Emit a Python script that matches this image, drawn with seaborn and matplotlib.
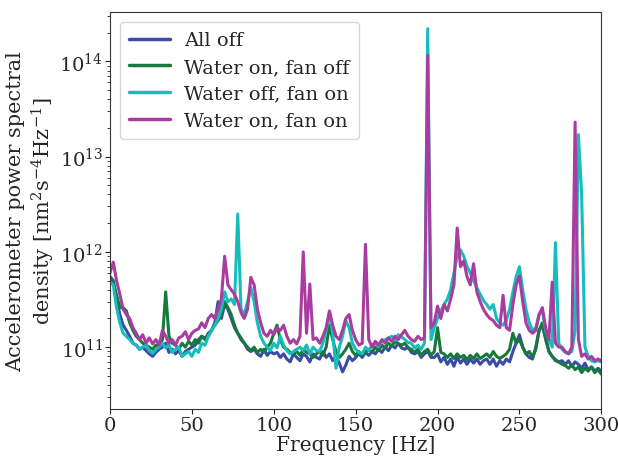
import numpy as np
import pandas as pd
import matplotlib.pyplot as plt
import seaborn as sns

# frequency grid [Hz], PSD values in units of 1e11 nm^2 s^-4 Hz^-1
freq = np.arange(0, 301, 2)

all_off = [
    5.5, 5.0, 3.2, 2.2, 1.7, 1.5, 1.3, 1.1, 1.05, 0.95,
    1.0, 0.92, 0.85, 0.8, 0.88, 0.95, 1.0, 1.1, 0.88, 0.95,
    0.85, 0.92, 0.8, 0.9, 0.95, 1.0, 1.05, 1.2, 1.3, 1.25,
    1.3, 1.5, 1.8, 3.0, 2.0, 2.8, 2.5, 2.0, 1.6, 1.4,
    1.2, 1.1, 0.95, 0.9, 0.95, 0.85, 0.8, 0.95, 0.82, 0.9,
    0.85, 0.88, 0.78, 0.85, 0.75, 0.7, 0.85, 0.78, 0.72, 0.85,
    0.8, 0.7, 0.85, 0.78, 0.75, 0.9, 0.78, 0.85, 0.72, 0.8,
    0.68, 0.55, 0.65, 0.8, 0.72, 0.78, 0.85, 0.78, 0.88, 0.82,
    0.9, 0.85, 0.95, 0.88, 1.0, 0.92, 1.05, 0.98, 1.1, 0.98,
    0.95, 1.0, 0.88, 0.85, 0.9, 0.78, 0.85, 0.9, 0.78, 0.78,
    0.85, 0.7, 0.78, 0.66, 0.75, 0.63, 0.78, 0.68, 0.75, 0.66,
    0.75, 0.68, 0.75, 0.66, 0.72, 0.75, 0.66, 0.75, 0.63, 0.72,
    0.66, 0.75, 0.7, 0.9, 1.1, 1.35, 1.0, 0.85, 0.78, 0.75,
    1.0, 1.5, 1.7, 1.2, 0.9, 0.8, 0.72, 0.7, 0.72, 0.66,
    0.72, 0.63, 0.7, 0.66, 0.6, 0.68, 0.58, 0.62, 0.56, 0.6,
    0.56,
]

water_on = [
    5.0, 4.8, 3.5, 2.6, 2.6, 2.4, 1.8, 1.5, 1.3, 1.2,
    1.1, 1.05, 1.0, 0.95, 1.05, 1.0, 1.2, 3.8, 1.3, 1.1,
    1.05, 0.95, 1.1, 1.0, 1.15, 1.05, 1.2, 1.1, 1.3, 1.2,
    1.4, 1.5, 1.7, 1.9, 2.2, 3.0, 2.6, 2.2, 1.7, 1.4,
    1.25, 1.1, 1.0, 0.92, 1.0, 0.88, 0.95, 0.88, 1.0, 1.1,
    1.4, 1.7, 1.2, 1.0, 0.95, 0.88, 0.85, 0.9, 0.82, 0.95,
    0.88, 0.85, 0.78, 0.85, 0.9, 0.82, 1.0, 1.7, 1.2, 0.9,
    0.78, 0.85, 0.95, 1.1, 0.9, 0.82, 0.9, 0.82, 0.9, 0.95,
    0.88, 1.0, 0.92, 1.05, 0.98, 1.1, 1.02, 1.15, 1.08, 1.05,
    1.1, 0.98, 0.95, 0.88, 0.95, 0.82, 0.9, 0.95, 0.82, 0.9,
    1.6, 0.88, 0.85, 0.78, 0.85, 0.76, 0.85, 0.78, 0.82, 0.74,
    0.82, 0.76, 0.85, 0.76, 0.8, 0.85, 0.78, 0.9, 0.8, 0.76,
    0.8, 0.85, 0.95, 1.4, 1.1, 1.2, 1.0, 0.85, 0.9, 0.78,
    0.95, 1.5, 1.8, 1.3, 0.9, 0.8, 0.74, 0.7, 0.66, 0.64,
    0.6, 0.65, 0.58, 0.62, 0.54, 0.6, 0.56, 0.62, 0.54, 0.58,
    0.52,
]

fan_on = [
    4.8, 4.5, 2.6, 1.8, 1.4, 1.3, 1.2, 1.1, 1.05, 0.95,
    1.0, 1.05, 0.92, 0.86, 0.95, 1.0, 1.1, 0.98, 1.05, 0.88,
    0.95, 1.0, 0.8, 0.85, 0.9, 0.8, 0.95, 0.88, 1.1, 1.05,
    1.3, 1.5, 1.7, 2.0, 2.5, 3.8, 3.0, 3.2, 2.8, 25.0,
    2.5, 2.2, 3.0, 4.2, 3.0, 1.8, 1.3, 1.1, 1.0, 0.92,
    1.1, 0.98, 1.3, 1.05, 0.92, 0.85, 0.9, 0.95, 1.0, 0.92,
    1.05, 0.85, 1.0, 0.92, 0.9, 1.1, 1.5, 2.3, 1.4, 0.6,
    1.0, 1.3, 1.9, 1.6, 1.1, 0.95, 0.88, 0.85, 1.0, 0.92,
    1.05, 1.1, 1.02, 1.15, 1.2, 1.25, 1.3, 1.18, 1.35, 1.28,
    1.2, 1.12, 1.1, 0.98, 1.05, 0.95, 1.1, 2200.0, 1.2, 1.6,
    2.0, 2.4, 2.8, 3.2, 4.0, 6.0, 9.0, 10.5, 9.0, 7.0,
    6.0, 5.0, 4.2, 3.6, 3.1, 2.8, 2.5, 2.8, 2.0, 1.8,
    1.7, 1.9, 2.5, 3.8, 5.5, 7.0, 4.0, 2.5, 1.8, 1.5,
    1.6, 2.2, 2.4, 1.5, 1.2, 1.0, 12.5, 1.1, 0.95, 0.88,
    0.85, 0.9, 1.5, 170.0, 40.0, 1.0, 0.8, 0.72, 0.7, 0.72,
    0.7,
]

both_on = [
    6.0, 7.8, 5.0, 3.6, 2.5, 2.2, 2.0, 1.6, 1.4, 1.2,
    1.35, 1.1, 1.25, 1.08, 1.2, 1.05, 1.5, 1.3, 1.1, 1.2,
    1.05, 1.25, 1.3, 1.45, 1.2, 1.4, 1.5, 1.55, 1.8, 1.6,
    2.0, 2.2, 2.0, 2.5, 3.2, 9.0, 4.5, 4.0, 3.6, 3.0,
    2.3, 2.0, 2.5, 5.4, 4.5, 2.5, 1.8, 1.4, 1.3, 1.5,
    1.35, 1.6, 1.5, 1.7, 1.3, 1.1, 1.2, 1.08, 1.3, 10.0,
    1.4, 4.6, 1.2, 1.25, 1.1, 1.3, 1.6, 2.4, 1.7, 1.3,
    1.2, 1.5, 2.0, 2.2, 1.5, 1.2, 1.05, 1.1, 12.0, 1.2,
    1.0, 1.15, 1.05, 1.2, 1.1, 1.25, 1.15, 1.3, 1.2, 1.35,
    1.5, 1.3, 1.2, 1.15, 1.3, 1.2, 1.25, 1150.0, 1.6, 1.8,
    2.7, 2.0, 2.8, 2.4, 3.2, 4.5, 17.8, 7.0, 8.0, 5.5,
    4.5, 7.5, 3.8, 3.0, 2.5, 2.2, 2.0, 1.9, 1.7, 1.6,
    3.5, 1.6, 1.5, 2.8, 4.5, 5.6, 3.0, 1.8, 1.5, 1.4,
    1.5, 2.2, 2.6, 1.6, 1.2, 4.8, 1.1, 1.0, 1.0, 0.9,
    0.85, 1.0, 230.0, 1.2, 0.8, 0.85, 0.75, 0.8, 0.72, 0.75,
    0.72,
]

labels = ["All off", "Water on, fan off", "Water off, fan on", "Water on, fan on"]
colors = ["#3a4ca6", "#167a3c", "#17bdbd", "#a83ca0"]

df = pd.concat([
    pd.DataFrame({"freq": freq, "psd": np.array(vals) * 1e11, "run": lab})
    for vals, lab in zip([all_off, water_on, fan_on, both_on], labels)
])

sns.set_style("ticks")
plt.rcParams["font.family"] = ["DejaVu Serif"]
plt.rcParams["mathtext.fontset"] = "dejavuserif"

fig = plt.figure(figsize=(6.18, 4.6), dpi=100)
ax = fig.add_axes([0.178, 0.109, 0.795, 0.863])
ax.set_yscale("log")

sns.lineplot(data=df, x="freq", y="psd", hue="run", hue_order=labels,
             palette=colors, linewidth=2.2, ax=ax)

ax.set_xlim(0, 300)
ax.set_ylim(2.25e10, 3.3e14)
ax.set_xticks([0, 50, 100, 150, 200, 250, 300])
ax.tick_params(labelsize=14, length=3.5, pad=1.5)
ax.tick_params(which="minor", length=2.5)
ax.set_xlabel("Frequency [Hz]", fontsize=14.5, labelpad=1)
ax.set_ylabel("Accelerometer power spectral\ndensity [nm$^2$s$^{-4}$Hz$^{-1}$]",
              fontsize=15, labelpad=2)
for s in ax.spines.values():
    s.set_color("#333333")

leg = ax.legend(loc="upper left", fontsize=14, frameon=True, handlelength=2.1,
                handletextpad=0.7, borderpad=0.5, labelspacing=0.45)
for line in leg.get_lines():
    line.set_linewidth(2.5)

plt.savefig("out.png", dpi=100)
